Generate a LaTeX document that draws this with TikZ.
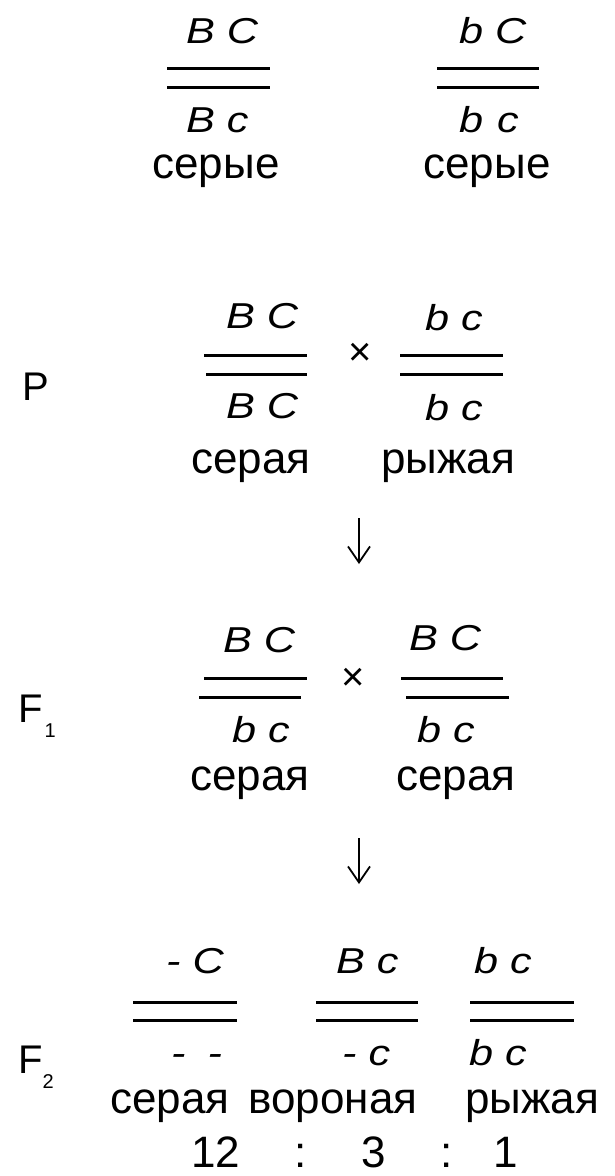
\documentclass[tikz,border=0pt]{standalone}
\usepackage{fontspec}
\setmainfont{Liberation Sans}
\newfontfamily\genofont{Liberation Sans}[FakeStretch=1.2]
\usetikzlibrary{arrows.meta}

\tikzset{
  allele/.style={anchor=base west, inner sep=0pt, font=\genofont\itshape\fontsize{36}{36}\selectfont},
  pheno/.style={anchor=base, inner sep=0pt, font=\fontsize{44}{44}\selectfont},
  gen/.style={anchor=base west, inner sep=0pt, font=\fontsize{40}{40}\selectfont},
  chrom/.style={line width=3pt},
  cross/.style={inner sep=0pt, font=\fontsize{40}{40}\selectfont},
  arr/.style={line width=1.8pt, -{Straight Barb[length=16pt,width=22pt]}},
}

\begin{document}
\begin{tikzpicture}[x=1pt,y=-1pt]
    \path[use as bounding box] (0,0) rectangle (614,1176);

    % Grey forms (top)
    \node[allele] (t1up) at (186,43) {B C};
    \draw[chrom] (167,68) -- (270,68);
    \draw[chrom] (167,87) -- (270,87);
    \node[allele] (t1dn) at (186,132) {B c};
    \node[pheno] (t1ph) at (216,178) {серые};

    \node[allele] (t2up) at (459,43) {b C};
    \draw[chrom] (437,68) -- (539,68);
    \draw[chrom] (437,87) -- (539,87);
    \node[allele] (t2dn) at (459,132) {b\hspace{14pt}c};
    \node[pheno] (t2ph) at (487,178) {серые};

    % Parents
    \node[gen] (p) at (22,400) {P};
    \node[allele] (p1up) at (226,328) {B C};
    \draw[chrom] (204,355) -- (307,355);
    \draw[chrom] (206,374) -- (307,374);
    \node[allele] (p1dn) at (226,418) {B C};
    \node[pheno] (p1ph) at (251,473) {серая};

    \node[cross] (px) at (360,354) {×};

    \node[allele] (p2up) at (425,330) {b c};
    \draw[chrom] (400,355) -- (503,355);
    \draw[chrom] (400,374) -- (503,374);
    \node[allele] (p2dn) at (425,420) {b c};
    \node[pheno] (p2ph) at (448,473) {рыжая};

    \coordinate (a1s) at (359,518);
    \coordinate (a1e) at (359,564);
    \draw[arr] (a1s) -- (a1e);

    % F1
    \node[gen] (f1) at (18,722) {F\hspace{2pt}\raisebox{-15pt}{\fontsize{20}{20}\selectfont 1}};
    \node[allele] (f1aup) at (223,652) {B C};
    \draw[chrom] (204,678) -- (307,678);
    \draw[chrom] (199,697) -- (301,697);
    \node[allele] (f1adn) at (232,742) {b c};
    \node[pheno] (f1aph) at (250,790) {серая};

    \node[cross] (f1x) at (353,679) {×};

    \node[allele] (f1bup) at (409,650) {B C};
    \draw[chrom] (401,678) -- (503,678);
    \draw[chrom] (406,697) -- (509,697);
    \node[allele] (f1bdn) at (417,742) {b c};
    \node[pheno] (f1bph) at (456,790) {серая};

    \coordinate (a2s) at (359,838);
    \coordinate (a2e) at (359,884);
    \draw[arr] (a2s) -- (a2e);

    % F2
    \node[gen] (f2) at (18,1073) {F\raisebox{-15pt}{\fontsize{20}{20}\selectfont 2}};
    \node[allele] (f2aup) at (166,973) {- C};
    \draw[chrom] (133,1002) -- (237,1002);
    \draw[chrom] (133,1020) -- (237,1020);
    \node[allele] (f2adn) at (171,1065) {-\hspace{22pt}-};
    \node[pheno] (f2aph) at (170,1113) {серая};

    \node[allele] (f2bup) at (336,973) {B c};
    \draw[chrom] (316,1002) -- (418,1002);
    \draw[chrom] (316,1020) -- (418,1020);
    \node[allele] (f2bdn) at (342,1065) {- c};
    \node[pheno] (f2bph) at (333,1113) {вороная};

    \node[allele] (f2cup) at (474,973) {b c};
    \draw[chrom] (470,1002) -- (574,1002);
    \draw[chrom] (470,1020) -- (574,1020);
    \node[allele] (f2cdn) at (469,1065) {b c};
    \node[pheno] (f2cph) at (532,1113) {рыжая};

    % ratio
    \node[pheno] (r1) at (216,1167) {12};
    \node[pheno] (c1) at (301,1167) {:};
    \node[pheno] (r2) at (374,1167) {3};
    \node[pheno] (c2) at (447,1167) {:};
    \node[pheno] (r3) at (506,1167) {1};
\end{tikzpicture}
\end{document}
